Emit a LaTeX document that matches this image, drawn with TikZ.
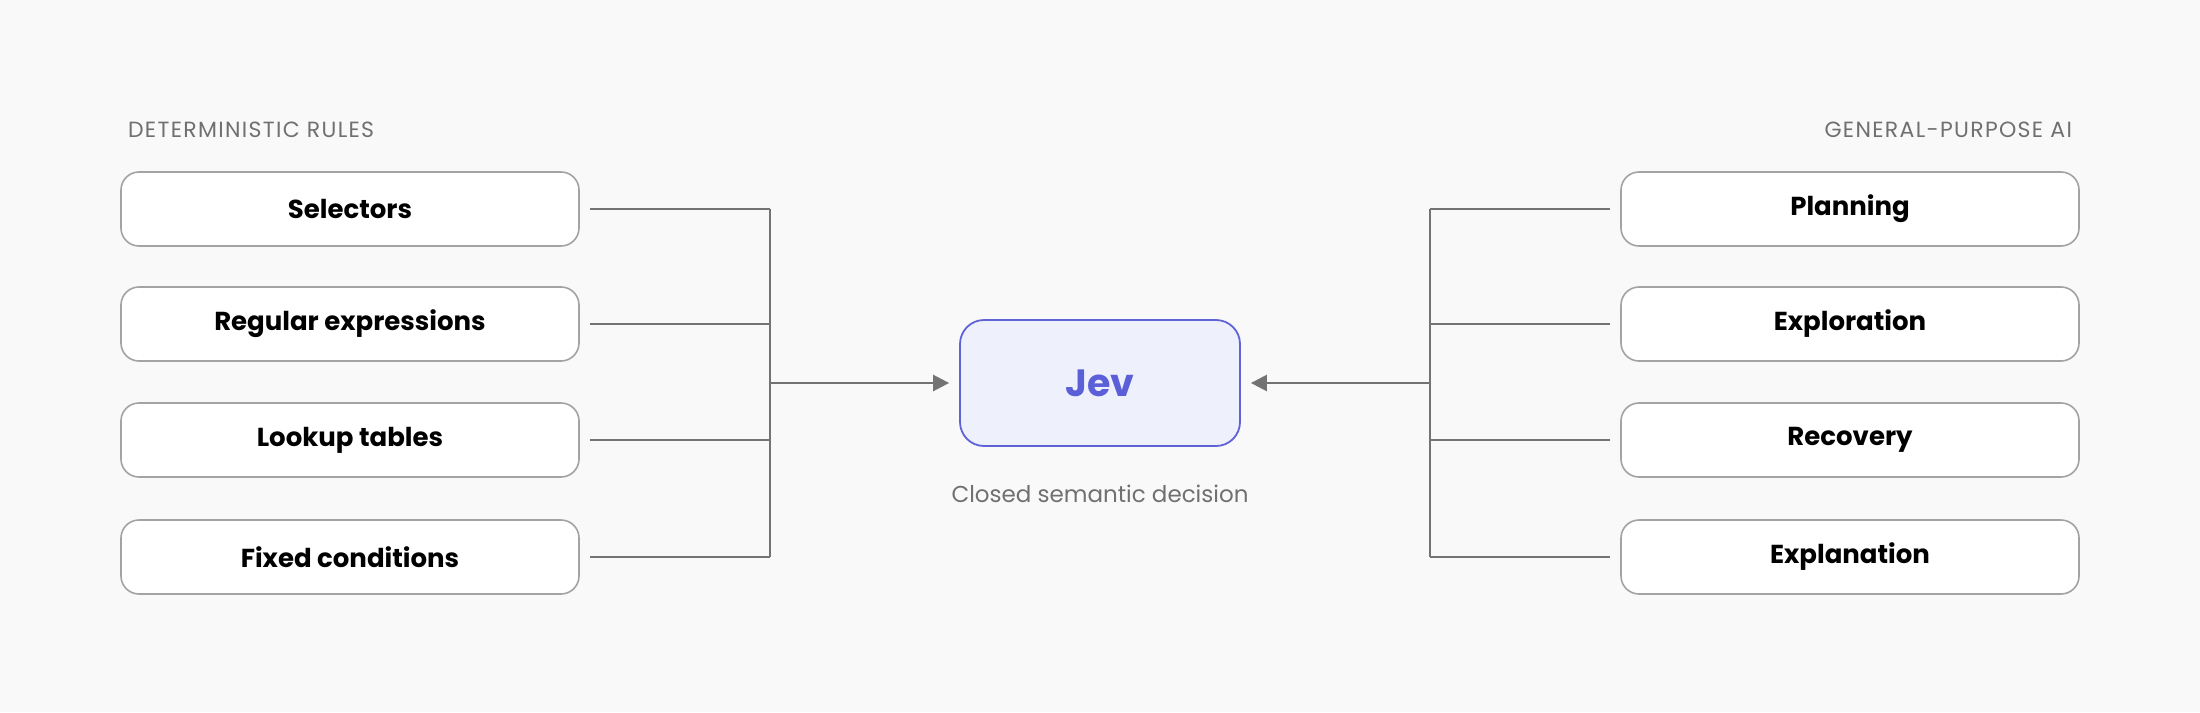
\documentclass[tikz,border=0pt]{standalone}
\usepackage{fontspec}
\setmainfont{Poppins}
\usetikzlibrary{arrows.meta}
\definecolor{bg}{HTML}{F9F9F9}
\definecolor{boxline}{HTML}{A3A3A3}
\definecolor{wire}{HTML}{737373}
\definecolor{jevfill}{HTML}{EEF1FC}
\definecolor{jevline}{HTML}{5F63D6}
\definecolor{jevtext}{HTML}{5B5FD8}
\definecolor{head}{HTML}{707070}
\tikzset{
  item/.style={draw=boxline, line width=0.8pt, fill=white, rounded corners=9pt,
    minimum width=229pt, minimum height=37pt, font=\fontsize{13}{15}\selectfont\bfseries},
  wire/.style={draw=wire, line width=1.3pt},
  head/.style={text=head, font=\fontsize{11}{13}\selectfont\addfontfeature{LetterSpace=6}}
}
\begin{document}
\begin{tikzpicture}[x=0.5pt,y=-0.5pt]
    \fill[bg] (0,0) rectangle (2200,712);
    \useasboundingbox (0,0) rectangle (2200,712);
    % headers
    \node[head, anchor=west] (lhead) at (121,130) {DETERMINISTIC RULES};
    \node[head, anchor=east] (rhead) at (2079,130) {GENERAL-PURPOSE AI};
    % centre
    \node[draw=jevline, line width=0.9pt, fill=jevfill, rounded corners=12pt,
      minimum width=140pt, minimum height=63pt, text=jevtext,
      font=\fontsize{19}{22}\selectfont\bfseries] (jev) at (1100,383) {Jev};
    \node[text=head, font=\fontsize{11.5}{14}\selectfont] (cap) at (1100,494) {Closed semantic decision};
    % buses
    \coordinate (lbus) at (770,383);
    \coordinate (rbus) at (1430,383);
    \coordinate (lt) at (770,209);
    \coordinate (lb) at (770,557);
    \coordinate (rt) at (1430,209);
    \coordinate (rb) at (1430,557);
    \draw[wire] (lt) -- (lb);
    \draw[wire] (rt) -- (rb);
    \foreach \y/\name/\txt in {209/l1/Selectors, 324/l2/Regular expressions, 440/l3/Lookup tables, 557/l4/Fixed conditions}{
      \node[item] (\name) at (350,\y) {\txt};
      \draw[wire] ([xshift=5pt]\name.east) -- (770,\y);
    }
    \foreach \y/\name/\txt in {209/r1/Planning, 324/r2/Exploration, 440/r3/Recovery, 557/r4/Explanation}{
      \node[item] (\name) at (1850,\y) {\txt};
      \draw[wire] ([xshift=-5pt]\name.west) -- (1430,\y);
    }
    \draw[wire, -{Triangle[length=8pt,width=8pt]}] (lbus) -- ([xshift=-5pt]jev.west);
    \draw[wire, -{Triangle[length=8pt,width=8pt]}] (rbus) -- ([xshift=5pt]jev.east);
\end{tikzpicture}
\end{document}
